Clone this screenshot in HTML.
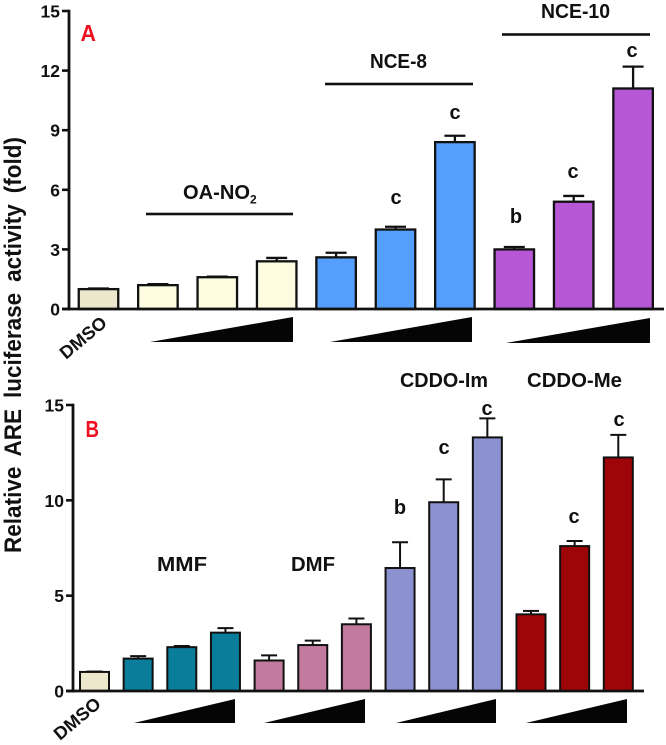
<!DOCTYPE html>
<html lang="en">
<head>
<meta charset="utf-8">
<title>Relative ARE luciferase activity</title>
<style>
html,body{margin:0;padding:0;background:#fff;width:666px;height:745px;overflow:hidden}
svg{display:block;filter:blur(0.35px)}
text{font-family:"Liberation Sans",sans-serif;font-weight:bold;fill:#111}
.letter{font-size:20px;text-anchor:middle}
.group{font-size:20px}
.tick{font-size:17.5px;text-anchor:end}
.bad{fill:#f01020;font-size:23px}
</style>
</head>
<body>
<svg id="chart" width="666" height="745" viewBox="0 0 666 745" xmlns="http://www.w3.org/2000/svg">
  <text transform="translate(21,553) rotate(-90)" textLength="416" lengthAdjust="spacingAndGlyphs" style="font-size:24px;font-weight:bold;word-spacing:5px">Relative ARE luciferase activity (fold)</text>

  <g id="panelA"></g>
  <g id="panelB"></g>

  <text class="bad" x="80.5" y="41" textLength="15.5" lengthAdjust="spacingAndGlyphs">A</text>
  <text class="bad" x="85.5" y="437" textLength="13.5" lengthAdjust="spacingAndGlyphs">B</text>

  <g>
    <text class="group" x="183" y="199" textLength="67" lengthAdjust="spacingAndGlyphs">OA-NO</text>
    <text x="250" y="203.5" style="font-size:12px">2</text>
    <text class="group" x="370" y="68" textLength="57" lengthAdjust="spacingAndGlyphs">NCE-8</text>
    <text class="group" x="541" y="18" textLength="69" lengthAdjust="spacingAndGlyphs">NCE-10</text>
    <rect x="146" y="212.7" width="147" height="2.6" fill="#111"/>
    <rect x="325" y="82.7" width="148" height="2.6" fill="#111"/>
    <rect x="502" y="33.2" width="148" height="2.6" fill="#111"/>
    <polygon points="150,342 293,317 293,342" fill="#050505"/>
    <polygon points="330,342 472,317 472,342" fill="#050505"/>
    <polygon points="506,343 650,318 650,343" fill="#050505"/>
    <text transform="translate(66,360) rotate(-40)" style="font-size:18px" textLength="55" lengthAdjust="spacingAndGlyphs">DMSO</text>
    <text class="letter" x="396" y="204">c</text>
    <text class="letter" x="455" y="119">c</text>
    <text class="letter" x="516" y="223">b</text>
    <text class="letter" x="573" y="178">c</text>
    <text class="letter" x="632" y="57">c</text>
  </g>

  <g>
    <text class="group" x="157" y="571" textLength="50" lengthAdjust="spacingAndGlyphs">MMF</text>
    <text class="group" x="291" y="571" textLength="44" lengthAdjust="spacingAndGlyphs">DMF</text>
    <text class="group" x="400" y="387" textLength="88" lengthAdjust="spacingAndGlyphs">CDDO-Im</text>
    <text class="group" x="527" y="387" textLength="95" lengthAdjust="spacingAndGlyphs">CDDO-Me</text>
    <polygon points="134,723 235,699 235,723" fill="#050505"/>
    <polygon points="264,723 365,699 365,723" fill="#050505"/>
    <polygon points="396,723 496,699 496,723" fill="#050505"/>
    <polygon points="526,723 627,699 627,723" fill="#050505"/>
    <text transform="translate(60,741) rotate(-40)" style="font-size:18px" textLength="55" lengthAdjust="spacingAndGlyphs">DMSO</text>
    <text class="letter" x="400" y="514">b</text>
    <text class="letter" x="444" y="454">c</text>
    <text class="letter" x="487" y="415">c</text>
    <text class="letter" x="574" y="523">c</text>
    <text class="letter" x="619" y="426">c</text>
  </g>
</svg>
<script>
var categoriesA = ['DMSO','OA-NO2 low','OA-NO2 mid','OA-NO2 high','NCE-8 low','NCE-8 mid','NCE-8 high','NCE-10 low','NCE-10 mid','NCE-10 high'];
var valuesA = [1, 1.2, 1.6, 2.4, 2.6, 4.0, 8.4, 3.0, 5.4, 11.1];
var errorsA = [0.03, 0.05, 0.03, 0.17, 0.23, 0.14, 0.32, 0.12, 0.29, 1.1];
var colorsA = ['#ebe6cc','#fdfbe0','#fdfbe0','#fdfbe0','#559ffc','#559ffc','#559ffc','#b657d6','#b657d6','#b657d6'];
var ticksA = [0, 3, 6, 9, 12, 15];

var categoriesB = ['DMSO','MMF low','MMF mid','MMF high','DMF low','DMF mid','DMF high','CDDO-Im low','CDDO-Im mid','CDDO-Im high','CDDO-Me low','CDDO-Me mid','CDDO-Me high'];
var valuesB = [1, 1.7, 2.3, 3.06, 1.6, 2.41, 3.5, 6.45, 9.9, 13.3, 4.02, 7.6, 12.25];
var errorsB = [0.02, 0.13, 0.06, 0.24, 0.27, 0.23, 0.3, 1.35, 1.2, 1.0, 0.18, 0.27, 1.18];
var colorsB = ['#ede8cc','#0a7d9b','#0a7d9b','#0a7d9b','#c27b9e','#c27b9e','#c27b9e','#8c91cf','#8c91cf','#8c91cf','#9e0508','#9e0508','#9e0508'];
var ticksB = [0, 5, 10, 15];

var NS = 'http://www.w3.org/2000/svg';

function makeEl(parent, tag, props) {
  var el = document.createElementNS(NS, tag);
  for (var k in props) el.setAttribute(k, props[k]);
  parent.appendChild(el);
  return el;
}

function drawPanel(parent, cfg) {
  function yScale(v) { return cfg.y0 - v * (cfg.y0 - cfg.yTop) / cfg.yMax; }
  function xScale(i) { return cfg.x0 + i * cfg.step; }

  cfg.categories.forEach(function (cat, i) {
    var cx = xScale(i);
    var top = yScale(cfg.values[i]);
    var errTop = yScale(cfg.values[i] + cfg.errors[i]);
    var stem = makeEl(parent, 'line', {x1: cx, x2: cx, y1: top, y2: errTop, stroke: '#111', 'stroke-width': cfg.sw});
    
    
    var cap = makeEl(parent, 'line', {x1: cx - cfg.cap, x2: cx + cfg.cap, y1: errTop, y2: errTop, stroke: '#111', 'stroke-width': cfg.sw});
    
    
    var bar = makeEl(parent, 'rect', {x: cx - cfg.w / 2, y: top, width: cfg.w, height: cfg.y0 - top, fill: cfg.colors[i], stroke: '#111', 'stroke-width': cfg.sw});
    
    
  });

  var yAxis = makeEl(parent, 'line', {x1: cfg.axisX, x2: cfg.axisX, y1: cfg.yTop - 1.2, y2: cfg.y0 + 1.5, stroke: '#111', 'stroke-width': 2.8});
  
  
  var xAxis = makeEl(parent, 'line', {x1: cfg.axisX - 7, x2: cfg.axisEnd, y1: cfg.y0, y2: cfg.y0, stroke: '#111', 'stroke-width': 2.8});
  
  

  cfg.ticks.forEach(function (t) {
    var y = yScale(t);
    var tick = makeEl(parent, 'line', {x1: cfg.axisX - 7, x2: cfg.axisX, y1: y, y2: y, stroke: '#111', 'stroke-width': 2.6});
    
    
    var label = makeEl(parent, 'text', {x: cfg.axisX - 9, y: y + 6.5, 'class': 'tick'});
    
    
    label.textContent = t;
  });
}

drawPanel(document.getElementById('panelA'), {
  categories: categoriesA, values: valuesA, errors: errorsA, colors: colorsA, ticks: ticksA,
  yMax: 15, y0: 309, yTop: 11, x0: 98.5, step: 59.4, w: 39.5, cap: 10.5, sw: 2.3, axisX: 69, axisEnd: 664
});
drawPanel(document.getElementById('panelB'), {
  categories: categoriesB, values: valuesB, errors: errorsB, colors: colorsB, ticks: ticksB,
  yMax: 15, y0: 691, yTop: 405, x0: 94.5, step: 43.65, w: 29, cap: 8, sw: 2, axisX: 73, axisEnd: 644
});
</script>
</body>
</html>
